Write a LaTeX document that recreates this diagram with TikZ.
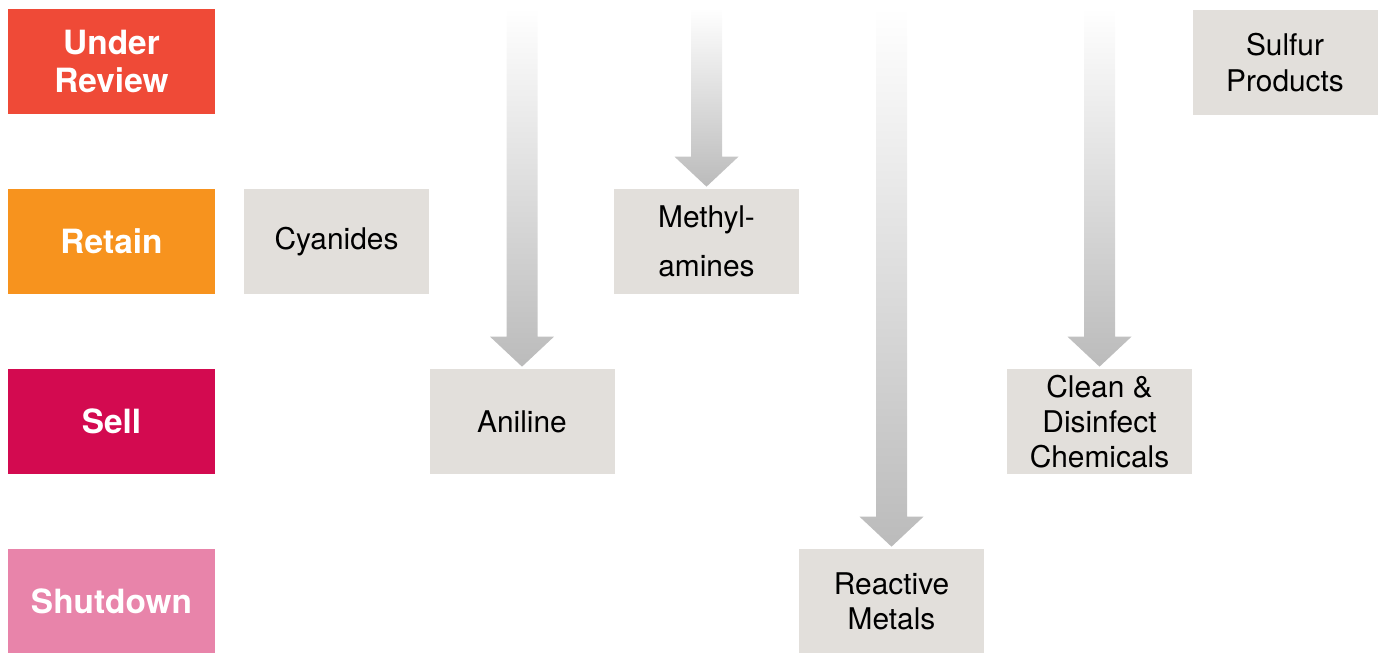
\documentclass[tikz,border=0pt]{standalone}
\usepackage{fontspec}
\setmainfont{TeX Gyre Heros}
\usetikzlibrary{calc}
\usetikzlibrary{positioning}

\definecolor{reviewred}{HTML}{EF4A37}
\definecolor{retainorange}{HTML}{F7931E}
\definecolor{sellred}{HTML}{D30A50}
\definecolor{shutpink}{HTML}{E884AA}
\definecolor{boxgray}{HTML}{E2DFDB}
\definecolor{arrgray}{HTML}{BBBBBB}

\tikzset{
 status/.style={fill=#1, text=white, font=\fontsize{19}{22}\selectfont\bfseries, align=center,
  minimum width=4.14cm, minimum height=2.1cm, inner sep=0},
 product/.style={fill=boxgray, text=black, font=\fontsize{17}{20}\selectfont, align=center,
  minimum width=3.7cm, minimum height=2.1cm, inner sep=0}
}

% fat shaded arrow from a top coordinate down to a node
\newcommand{\fatarrow}[2]{
 \shade[top color=white, middle color=arrgray!85, bottom color=arrgray]
  let \p1=(#1), \p2=(#2) in
  (\x2-0.31cm,\y1) -- (\x2+0.31cm,\y1) -- (\x2+0.31cm,\y2+0.64cm) -- (\x2+0.64cm,\y2+0.64cm)
  -- (\x2,\y2+0.04cm) -- (\x2-0.64cm,\y2+0.64cm) -- (\x2-0.31cm,\y2+0.64cm) -- cycle;
}

\begin{document}
\begin{tikzpicture}
\useasboundingbox (0,0) rectangle (27.66,-13.04);

\node[status=reviewred] (review) at (2.23,-1.23) {Under\\Review};
\node[status=retainorange] (retain) at (2.23,-4.83) {Retain};
\node[status=sellred] (sell) at (2.23,-8.43) {Sell};
\node[status=shutpink] (shutdown) at (2.23,-12.03) {Shutdown};

\node[product] (cyanides) at (6.73,-4.83) {Cyanides};
\node[product] (aniline) at (10.44,-8.43) {Aniline};
\node[product, font=\fontsize{17}{28}\selectfont] (methyl) at (14.13,-4.83) {Methyl-\\amines};
\node[product] (metals) at (17.83,-12.03) {Reactive\\Metals};
\node[product] (clean) at (21.99,-8.43) {Clean \&\\Disinfect\\Chemicals};
\node[product] (sulfur) at (25.70,-1.25) {Sulfur\\Products};

\foreach \target in {aniline,methyl,metals,clean} {
 \coordinate (\target-top) at (0,-0.16);
 \fatarrow{\target-top}{\target.north}
}
\end{tikzpicture}
\end{document}
